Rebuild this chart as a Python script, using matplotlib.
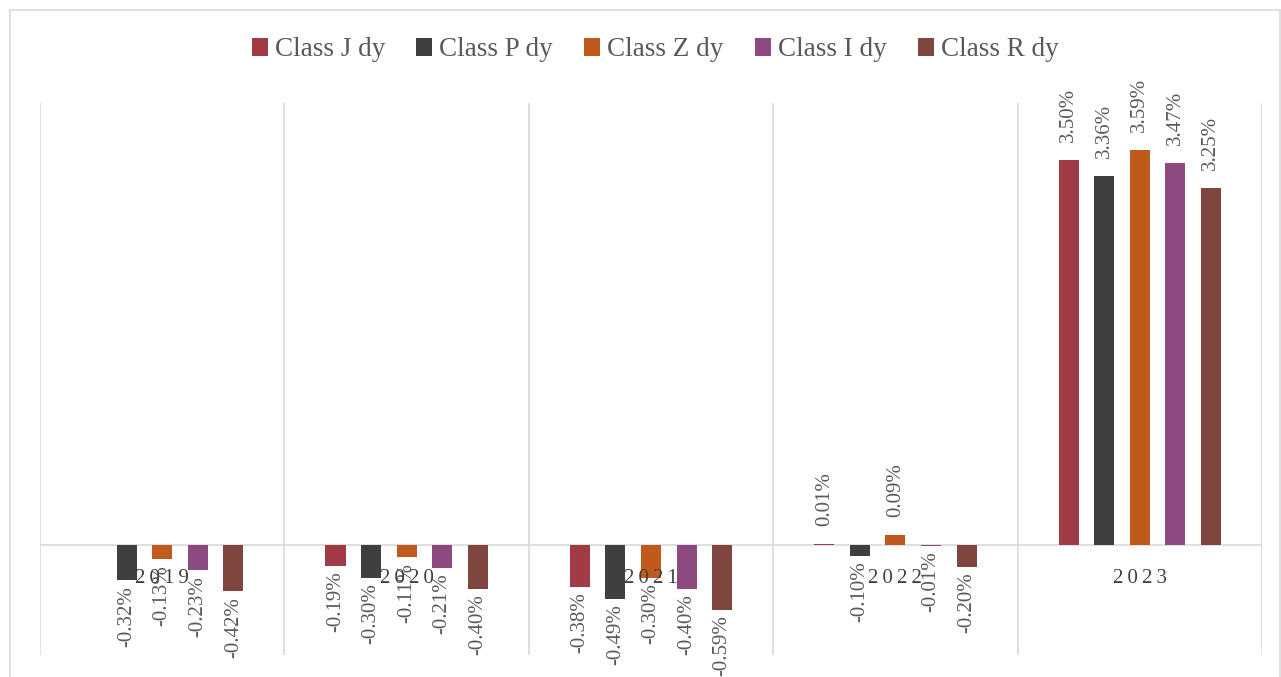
import numpy as np
import matplotlib.pyplot as plt
from matplotlib.patches import Rectangle

years = ["2019", "2020", "2021", "2022", "2023"]
series = ["Class J dy", "Class P dy", "Class Z dy", "Class I dy", "Class R dy"]
class_j = [np.nan, -0.19, -0.38, 0.01, 3.50]
class_p = [-0.32, -0.30, -0.49, -0.10, 3.36]
class_z = [-0.13, -0.11, -0.30, 0.09, 3.59]
class_i = [-0.23, -0.21, -0.40, -0.01, 3.47]
class_r = [-0.42, -0.40, -0.59, -0.20, 3.25]
colors = ["#A03C46", "#3F3F3F", "#C0591C", "#8C4A80", "#7E463E"]

plt.rcParams["font.family"] = ["Liberation Serif", "DejaVu Serif"]
fig = plt.figure(figsize=(12.81, 6.77), dpi=100)
fig.patches.append(Rectangle((10/1281, -0.1), 1270/1281, 1.1 - 10/677, transform=fig.transFigure,
                             fill=False, edgecolor="#D9D9D9", lw=1.2))
ax = fig.add_axes([40/1281, 1-655/677, 1222/1281, (655-103)/677])
x = np.arange(len(years))
step, w = 0.1455, 0.082
for k, (name, vals, c) in enumerate(zip(series, [class_j, class_p, class_z, class_i, class_r], colors)):
    xs = x + (k - 2) * step
    ax.bar(xs, vals, w, color=c, label=name, zorder=3)
    for xi, v in zip(xs, vals):
        if np.isnan(v):
            continue
        ax.annotate(f"{v:.2f}%", (xi, v), xytext=(0, 13 if v >= 0 else -4), textcoords="offset points",
                    rotation=90, ha="center", va="bottom" if v >= 0 else "top",
                    fontsize=15, color="#595959", zorder=4)
for i, y in enumerate(years):
    ax.text(i, -0.3, "\u2009".join(y), ha="center", va="center", fontsize=15, color="#404040", zorder=5)
for b in np.arange(-0.5, 5, 1.0):
    ax.axvline(b, color="#D9D9D9", lw=1.2, zorder=1)
ax.axhline(0, color="#D9D9D9", lw=1.2, zorder=2)
ax.set_xlim(-0.5, 4.5)
ax.set_ylim(-1.0, 4.02)
ax.set_xticks([]); ax.set_yticks([])
for s in ax.spines.values():
    s.set_visible(False)
fig.legend(loc="center", bbox_to_anchor=(655/1281, 1-50/677), ncol=5, frameon=False,
           fontsize=19.5, handlelength=0.6, handleheight=0.6, handletextpad=0.25, columnspacing=1.15,
           labelcolor="#595959")
fig.savefig("out.png", dpi=100)
